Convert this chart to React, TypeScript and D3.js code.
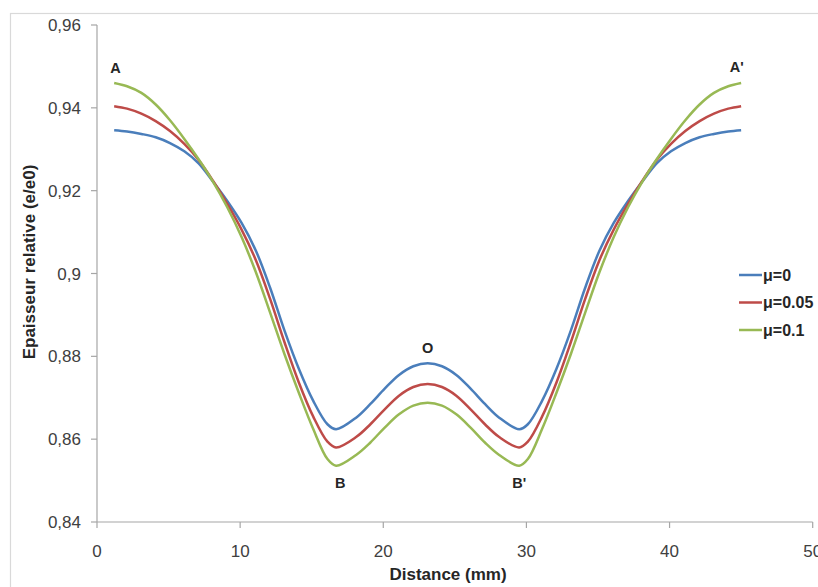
import React from "react";
import * as d3 from "d3";

const distances = [1.2, 2.1, 3.1, 4.1, 5.1, 6.1, 7.1, 8.1, 9.1, 10.1, 11.1, 12.1, 13.1, 14.1, 15.1, 16.1, 16.7, 18.1, 19.1, 20.1, 21.1, 22.1, 23.1,
  24.1, 25.1, 26.1, 27.1, 28.1, 29.5, 30.1, 31.1, 32.1, 33.1, 34.1, 35.1, 36.1, 37.1, 38.1, 39.1, 40.1, 41.1, 42.1, 43.1, 44.1, 45.0];

const mu0 = [0.9346, 0.9343, 0.9337, 0.9329, 0.9315, 0.9295, 0.9266, 0.9222, 0.9175, 0.9122, 0.9055, 0.8965, 0.8862, 0.8770, 0.8693, 0.8636, 0.8624, 0.8652, 0.8685, 0.8722, 0.8755, 0.8776, 0.8783,
  0.8776, 0.8755, 0.8722, 0.8685, 0.8652, 0.8624, 0.8636, 0.8693, 0.8770, 0.8862, 0.8965, 0.9055, 0.9122, 0.9175, 0.9222, 0.9266, 0.9295, 0.9315, 0.9329, 0.9337, 0.9343, 0.9346];

const mu005 = [0.9404, 0.9398, 0.9386, 0.9368, 0.9344, 0.9313, 0.9274, 0.9224, 0.9168, 0.9106, 0.9032, 0.8938, 0.8834, 0.8737, 0.8655, 0.8594, 0.8580, 0.8605, 0.8636, 0.8672, 0.8705, 0.8726, 0.8733,
  0.8726, 0.8705, 0.8672, 0.8636, 0.8605, 0.8580, 0.8594, 0.8655, 0.8737, 0.8834, 0.8938, 0.9032, 0.9106, 0.9168, 0.9224, 0.9274, 0.9313, 0.9344, 0.9368, 0.9386, 0.9398, 0.9404];

const mu01 = [0.9460, 0.9452, 0.9436, 0.9408, 0.9370, 0.9325, 0.9276, 0.9222, 0.9160, 0.9088, 0.9003, 0.8905, 0.8805, 0.8712, 0.8625, 0.8552, 0.8536, 0.8562, 0.8592, 0.8628, 0.8660, 0.8681, 0.8688,
  0.8681, 0.8660, 0.8628, 0.8592, 0.8562, 0.8536, 0.8552, 0.8625, 0.8712, 0.8805, 0.8905, 0.9003, 0.9088, 0.9160, 0.9222, 0.9276, 0.9325, 0.9370, 0.9408, 0.9436, 0.9452, 0.9460];

const seriesNames = ["μ=0", "μ=0.05", "μ=0.1"];
const seriesColors = ["#4A7EBB", "#BE4B48", "#98B954"];
const xTicks = [0, 10, 20, 30, 40, 50];
const yTicks = [0.84, 0.86, 0.88, 0.9, 0.92, 0.94, 0.96];

const pointLabels = [
  { t: "A", x: 1.3, y: 0.9484 },
  { t: "A'", x: 44.7, y: 0.9487 },
  { t: "B", x: 17.0, y: 0.8482 },
  { t: "B'", x: 29.5, y: 0.8482 },
  { t: "O", x: 23.1, y: 0.8808 },
];

export default function App() {
  const W = 818, H = 587;
  const x = d3.scaleLinear().domain([0, 50]).range([97, 812.7]);
  const y = d3.scaleLinear().domain([0.84, 0.96]).range([522, 25]);
  const all = [mu0, mu005, mu01];
  const line = d3.line<[number, number]>()
    .x(d => x(d[0]))
    .y(d => y(d[1]))
    .curve(d3.curveCatmullRom.alpha(0.5));
  const fmt = (v: number) => (v === 0.9 ? "0,9" : v.toFixed(2).replace(".", ","));
  const font = "'Liberation Sans', Arial, sans-serif";
  const axisColor = "#A6A6A6";
  return (
    <svg width={W} height={H} style={{ position: "absolute", left: 0, top: 0, background: "#fff" }} fontFamily={font}>
      <rect x={10.5} y={13.5} width={900} height={700} fill="none" stroke="#D9D9D9" strokeWidth={1.2} />
      <line x1={x(0)} x2={x(0)} y1={y(0.96)} y2={y(0.84)} stroke={axisColor} strokeWidth={1.2} />
      <line x1={x(0)} x2={x(50)} y1={y(0.84)} y2={y(0.84)} stroke={axisColor} strokeWidth={1.2} />
      {yTicks.map(t => (
        <g key={"y" + t}>
          <line x1={x(0) - 6} x2={x(0)} y1={y(t)} y2={y(t)} stroke={axisColor} strokeWidth={1.2} />
          <text x={81} y={y(t)} dy="0.36em" textAnchor="end" fontSize={17} fill="#404040">{fmt(t)}</text>
        </g>
      ))}
      {xTicks.map(t => (
        <g key={"x" + t}>
          <line x1={x(t)} x2={x(t)} y1={y(0.84)} y2={y(0.84) + 6} stroke={axisColor} strokeWidth={1.2} />
          <text x={x(t)} y={557} textAnchor="middle" fontSize={17} fill="#404040">{t}</text>
        </g>
      ))}
      <text x={448} y={580} textAnchor="middle" fontSize={17} fontWeight="bold" fill="#262626">Distance (mm)</text>
      <text transform="translate(35,262) rotate(-90)" textAnchor="middle" fontSize={17} fontWeight="bold" fill="#262626">Epaisseur relative (e/e0)</text>
      {all.map((s, i) => (
        <path key={i} d={line(distances.map((d, j) => [d, s[j]] as [number, number])) || ""} fill="none" stroke={seriesColors[i]} strokeWidth={2.5} />
      ))}
      {pointLabels.map(p => (
        <text key={p.t} x={x(p.x)} y={y(p.y)} textAnchor="middle" fontSize={14.5} fontWeight="bold" fill="#262626">{p.t}</text>
      ))}
      {seriesNames.map((n, i) => (
        <g key={n}>
          <line x1={739} x2={762} y1={275 + i * 27.5} y2={275 + i * 27.5} stroke={seriesColors[i]} strokeWidth={2.5} />
          <text x={763} y={275 + i * 27.5} dy="0.36em" fontSize={16} fontWeight="bold" fill="#262626">{n}</text>
        </g>
      ))}
    </svg>
  );
}
